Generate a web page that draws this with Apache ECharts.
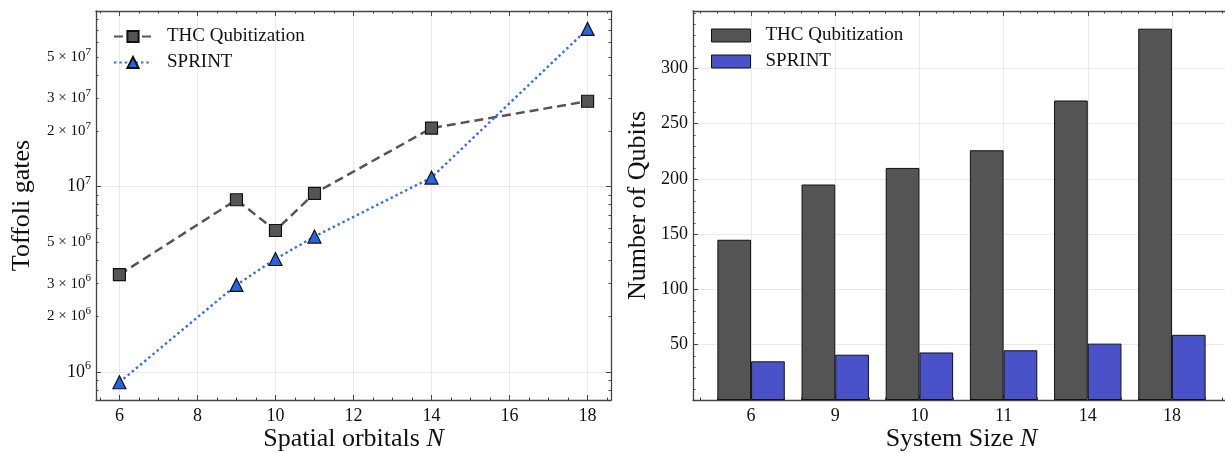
<!DOCTYPE html>
<html><head><meta charset="utf-8">
<script src="https://cdn.jsdelivr.net/npm/echarts@6/dist/echarts.min.js"></script>
<style>html,body{margin:0;padding:0;background:#fff}#c{width:1225px;height:453px}</style>
</head><body><div id="c"></div>
<script>
// ---- data ----
const orbitals = [6, 9, 10, 11, 14, 18];
const thcToffoli = [3.35e6, 8.5e6, 5.8e6, 9.2e6, 2.07e7, 2.89e7];
const sprintToffoli = [8.8e5, 2.95e6, 4.07e6, 5.38e6, 1.12e7, 7.1e7];
const systemSizes = ['6', '9', '10', '11', '14', '18'];
const thcQubits = [145, 195, 210, 226, 271, 336];
const sprintQubits = [35, 41, 43, 45, 51, 59];
const orbitalTicks = [6, 8, 10, 12, 14, 16, 18];
const toffoliTickLabels = [1e6, 2e6, 3e6, 5e6, 1e7, 2e7, 3e7, 5e7];
const toffoliMajor = [1e6, 1e7];
const qubitTicks = [50, 100, 150, 200, 250, 300];

// ---- style / layout ----
const FONT = 'Liberation Serif';
const TXT = '#111';
const AX = '#454545';
const GRIDC = '#e4e4e4';
const L = {left: 96, top: 11, width: 515, height: 389};
const R = {left: 693, top: 11, width: 537, height: 389};
const LX = [5.4, 18.6], LY = [7.06e5, 8.87e7];
const RX = [-0.69, 5.69], RY = [0, 352];

function steps(a, b, step, skip) {
  const out = [];
  for (let k = Math.ceil(a / step - 1e-9); k * step <= b + 1e-9; k++) {
    const v = Math.round(k * step * 1000) / 1000;
    if (skip && skip.some(s => Math.abs(s - v) < 1e-9)) continue;
    out.push(v);
  }
  return out;
}
function logMinor(a, b) {
  const out = [];
  for (let e = Math.floor(Math.log10(a)); e <= Math.ceil(Math.log10(b)); e++) {
    for (let m = 2; m <= 9; m++) { const v = m * Math.pow(10, e); if (v >= a && v <= b) out.push(v); }
  }
  return out;
}
function tickAxis(gridIndex, position, type, ext, values, len, showLine) {
  const a = {
    type, gridIndex, position, min: ext[0], max: ext[1], silent: true,
    axisLine: {show: !!showLine, onZero: false, lineStyle: {color: AX, width: 1.3}},
    axisTick: {show: true, inside: true, length: len, customValues: values, lineStyle: {color: AX, width: 1}},
    axisLabel: {show: false}, splitLine: {show: false}, minorTick: {show: false}
  };
  if (type === 'log') a.logBase = 10;
  return a;
}
function sciLabel(v) {
  const e = Math.floor(Math.log10(v) + 1e-9);
  const m = Math.round(v / Math.pow(10, e));
  return m === 1 ? '{M|10}{Ms|' + e + '}' : '{m|' + m + ' × 10}{ms|' + e + '}';
}
const nameStyle = {fontFamily: FONT, fontSize: 26, color: TXT, rich: {i: {fontFamily: FONT, fontSize: 26, fontStyle: 'italic', color: TXT}}};
const labelStyle = {fontFamily: FONT, fontSize: 18, color: TXT};

const xAxes = [
  {type: 'value', gridIndex: 0, position: 'bottom', min: LX[0], max: LX[1],
   axisLine: {show: true, onZero: false, lineStyle: {color: AX, width: 1.3}},
   axisTick: {show: true, inside: true, length: L.height, customValues: orbitalTicks, lineStyle: {color: GRIDC, width: 0.8}},
   axisLabel: Object.assign({customValues: orbitalTicks, margin: 7, formatter: v => String(v)}, labelStyle),
   splitLine: {show: false},
   name: 'Spatial orbitals {i|N}', nameLocation: 'middle', nameGap: 26, nameMoveOverlap: false, nameTextStyle: nameStyle},
  tickAxis(0, 'bottom', 'value', LX, orbitalTicks, 5),
  tickAxis(0, 'bottom', 'value', LX, steps(LX[0], LX[1], 0.5, orbitalTicks), 2.5),
  tickAxis(0, 'top', 'value', LX, orbitalTicks, 5, true),
  tickAxis(0, 'top', 'value', LX, steps(LX[0], LX[1], 0.5, orbitalTicks), 2.5),
  {type: 'value', gridIndex: 1, position: 'bottom', min: RX[0], max: RX[1],
   axisLine: {show: true, onZero: false, lineStyle: {color: AX, width: 1.3}},
   axisTick: {show: true, inside: true, length: R.height, customValues: systemSizes.map((_, i) => i), lineStyle: {color: GRIDC, width: 0.8}},
   axisLabel: Object.assign({customValues: systemSizes.map((_, i) => i), margin: 7, formatter: v => systemSizes[Math.round(v)]}, labelStyle),
   splitLine: {show: false},
   name: 'System Size {i|N}', nameLocation: 'middle', nameGap: 26, nameMoveOverlap: false, nameTextStyle: nameStyle},
  tickAxis(1, 'bottom', 'value', RX, systemSizes.map((_, i) => i), 5),
  tickAxis(1, 'bottom', 'value', RX, steps(RX[0], RX[1], 0.2, systemSizes.map((_, i) => i)), 2.5),
  tickAxis(1, 'top', 'value', RX, systemSizes.map((_, i) => i), 5, true),
  tickAxis(1, 'top', 'value', RX, steps(RX[0], RX[1], 0.2, systemSizes.map((_, i) => i)), 2.5)
];

const yAxes = [
  {type: 'log', logBase: 10, gridIndex: 0, position: 'left', min: LY[0], max: LY[1],
   axisLine: {show: true, onZero: false, lineStyle: {color: AX, width: 1.3}},
   axisTick: {show: true, inside: true, length: L.width, customValues: toffoliMajor, lineStyle: {color: GRIDC, width: 0.8}},
   axisLabel: {customValues: toffoliTickLabels, margin: 5, formatter: sciLabel, color: TXT, fontFamily: FONT,
     rich: {
       M: {fontFamily: FONT, fontSize: 18, color: TXT},
       Ms: {fontFamily: FONT, fontSize: 12, color: TXT, padding: [0, 0, 12, 0]},
       m: {fontFamily: FONT, fontSize: 15, color: TXT},
       ms: {fontFamily: FONT, fontSize: 11, color: TXT, padding: [0, 0, 10, 0]}
     }},
   splitLine: {show: false},
   name: 'Toffoli gates', nameLocation: 'middle', nameGap: 61, nameMoveOverlap: false, nameTextStyle: nameStyle},
  tickAxis(0, 'left', 'log', LY, toffoliMajor, 5),
  tickAxis(0, 'left', 'log', LY, logMinor(LY[0], LY[1]), 2.5),
  tickAxis(0, 'right', 'log', LY, toffoliMajor, 5, true),
  tickAxis(0, 'right', 'log', LY, logMinor(LY[0], LY[1]), 2.5),
  {type: 'value', gridIndex: 1, position: 'left', min: RY[0], max: RY[1],
   axisLine: {show: true, onZero: false, lineStyle: {color: AX, width: 1.3}},
   axisTick: {show: true, inside: true, length: R.width, customValues: qubitTicks, lineStyle: {color: GRIDC, width: 0.8}},
   axisLabel: Object.assign({customValues: qubitTicks, margin: 5}, labelStyle),
   splitLine: {show: false},
   name: 'Number of Qubits', nameLocation: 'middle', nameGap: 42, nameMoveOverlap: false, nameTextStyle: nameStyle},
  tickAxis(1, 'left', 'value', RY, qubitTicks, 5),
  tickAxis(1, 'left', 'value', RY, steps(RY[0] + 10, RY[1], 10, qubitTicks), 2.5),
  tickAxis(1, 'right', 'value', RY, qubitTicks, 5, true),
  tickAxis(1, 'right', 'value', RY, steps(RY[0] + 10, RY[1], 10, qubitTicks), 2.5)
];

const legendText = {fontFamily: FONT, fontSize: 19, color: TXT, padding: [0, 0, 0, 10]};
const option = {
  animation: false,
  backgroundColor: '#fff',
  grid: [
    Object.assign({containLabel: false, outerBoundsMode: 'none'}, L),
    Object.assign({containLabel: false, outerBoundsMode: 'none'}, R)
  ],
  xAxis: xAxes,
  yAxis: yAxes,
  legend: [
    {left: 108, top: 22, orient: 'vertical', itemWidth: 38, itemHeight: 14, itemGap: 7,
     data: ['THC Qubitization', 'SPRINT'], textStyle: legendText, selectedMode: false},
    {left: 706, top: 21, orient: 'vertical', itemWidth: 39, itemHeight: 13, itemGap: 7, selectedMode: false,
     data: [
       {name: 'THC Qubitization', icon: 'rect', itemStyle: {color: '#545454', borderColor: '#111', borderWidth: 1}},
       {name: 'SPRINT', icon: 'rect', itemStyle: {color: '#4a52c9', borderColor: '#111', borderWidth: 1}}
     ], textStyle: legendText}
  ],
  series: [
    {type: 'line', name: 'THC Qubitization', xAxisIndex: 0, yAxisIndex: 0,
     data: orbitals.map((n, i) => [n, thcToffoli[i]]),
     symbol: 'rect', symbolSize: 12,
     lineStyle: {color: '#555555', width: 2.5, type: [9, 5]},
     itemStyle: {color: '#555555', borderColor: '#111', borderWidth: 1.2}, z: 3},
    {type: 'line', name: 'SPRINT', xAxisIndex: 0, yAxisIndex: 0,
     data: orbitals.map((n, i) => [n, sprintToffoli[i]]),
     symbol: 'triangle', symbolSize: 13,
     lineStyle: {color: '#2f6df2', width: 2.4, type: [2.4, 3]},
     itemStyle: {color: '#2764e0', borderColor: '#111', borderWidth: 1.2}, z: 4},
    {type: 'bar', name: 'THC Qubitization', xAxisIndex: 5, yAxisIndex: 5,
     data: systemSizes.map((_, i) => [i, thcQubits[i]]),
     barWidth: 33.7, barGap: '0%',
     itemStyle: {color: '#545454', borderColor: '#111', borderWidth: 1}},
    {type: 'bar', name: 'SPRINT', xAxisIndex: 5, yAxisIndex: 5,
     data: systemSizes.map((_, i) => [i, sprintQubits[i]]),
     barWidth: 33.7, barGap: '0%',
     itemStyle: {color: '#4a52c9', borderColor: '#111', borderWidth: 1}}
  ]
};
const chart = echarts.init(document.getElementById('c'), null, {renderer: 'canvas'});
chart.setOption(option);
</script>
</body></html>
